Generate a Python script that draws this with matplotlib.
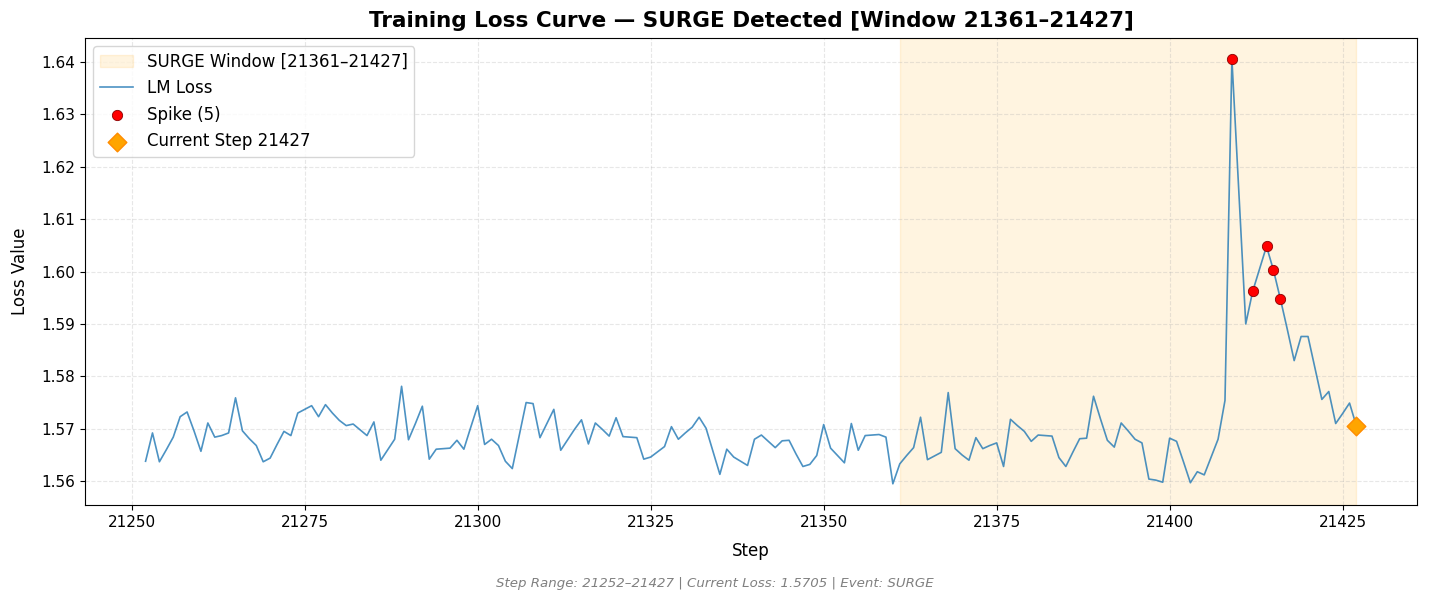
import matplotlib
matplotlib.use("Agg")
import matplotlib.pyplot as plt
import numpy as np

start_step = 21252
loss = [
    1.5638, 1.5692, 1.5637, 1.5660, 1.5684, 1.5723, 1.5732, 1.5696, 1.5657, 1.5711,  # 21252-21261
    1.5684, 1.5687, 1.5692, 1.5759, 1.5696, 1.5681, 1.5668, 1.5637, 1.5644, 1.5670,  # 21262-21271
    1.5695, 1.5687, 1.5730, 1.5737, 1.5744, 1.5723, 1.5746, 1.5730, 1.5716, 1.5706,  # 21272-21281
    1.5709, 1.5698, 1.5687, 1.5713, 1.5640, 1.5660, 1.5680, 1.5781, 1.5679, 1.5710,  # 21282-21291
    1.5743, 1.5642, 1.5661, 1.5662, 1.5663, 1.5678, 1.5661, 1.5703, 1.5744, 1.5670,  # 21292-21301
    1.5680, 1.5668, 1.5638, 1.5624, 1.5687, 1.5750, 1.5748, 1.5683, 1.5710, 1.5737,  # 21302-21311
    1.5659, 1.5679, 1.5699, 1.5717, 1.5671, 1.5711, 1.5699, 1.5686, 1.5721, 1.5685,  # 21312-21321
    1.5684, 1.5683, 1.5642, 1.5646, 1.5656, 1.5666, 1.5704, 1.5680, 1.5692, 1.5703,  # 21322-21331
    1.5722, 1.5701, 1.5657, 1.5613, 1.5661, 1.5646, 1.5638, 1.5630, 1.5680, 1.5688,  # 21332-21341
    1.5676, 1.5664, 1.5677, 1.5678, 1.5652, 1.5628, 1.5632, 1.5649, 1.5708, 1.5663,  # 21342-21351
    1.5649, 1.5635, 1.5710, 1.5659, 1.5687, 1.5688, 1.5689, 1.5684, 1.5595, 1.5633,  # 21352-21361
    1.5649, 1.5664, 1.5722, 1.5641, 1.5648, 1.5655, 1.5769, 1.5662, 1.5650, 1.5640,  # 21362-21371
    1.5683, 1.5662, 1.5668, 1.5673, 1.5628, 1.5718, 1.5706, 1.5695, 1.5676, 1.5688,  # 21372-21381
    1.5687, 1.5686, 1.5645, 1.5628, 1.5655, 1.5681, 1.5682, 1.5762, 1.5719, 1.5678,  # 21382-21391
    1.5665, 1.5711, 1.5696, 1.5680, 1.5673, 1.5604, 1.5602, 1.5598, 1.5682, 1.5676,  # 21392-21401
    1.5637, 1.5597, 1.5618, 1.5612, 1.5646, 1.5680, 1.5754, 1.6405, 1.6152, 1.5900,  # 21402-21411
    1.5962, 1.6005, 1.6048, 1.6003, 1.5948, 1.5890, 1.5830, 1.5876, 1.5876, 1.5816,  # 21412-21421
    1.5756, 1.5771, 1.5710, 1.5729, 1.5749, 1.5705,                                  # 21422-21427
]
steps = np.arange(start_step, start_step + len(loss))
spike_steps = [21409, 21412, 21414, 21415, 21416]
window_start, window_end = 21361, 21427
current_step = 21427
current_loss = 1.5705

spike_vals = [loss[s - start_step] for s in spike_steps]

fig = plt.figure(figsize=(14.29, 6.02), dpi=100)
ax = fig.add_axes([0.0595, 0.1611, 0.9321, 0.7758])

ax.axvspan(window_start, window_end, color="orange", alpha=0.12,
           label=f"SURGE Window [{window_start}–{window_end}]")
ax.plot(steps, loss, color="#1f77b4", alpha=0.8, linewidth=1.2, label="LM Loss")
ax.scatter(spike_steps, spike_vals, color="red", edgecolors="darkred", linewidths=0.6,
           s=55, zorder=5, label=f"Spike ({len(spike_steps)})")
ax.scatter([current_step], [current_loss], color="orange", edgecolors="darkorange",
           marker="D", s=90, zorder=6, label=f"Current Step {current_step}")

ax.grid(True, linestyle="--", alpha=0.3)
ax.set_xlabel("Step", fontsize=12, labelpad=9)
ax.set_ylabel("Loss Value", fontsize=12, labelpad=9)
ax.tick_params(labelsize=11)
ax.set_title(f"Training Loss Curve — SURGE Detected [Window {window_start}–{window_end}]",
             fontsize=15.5, fontweight="bold", pad=8)
ax.legend(loc="upper left", fontsize=12)

fig.text(0.5, 0.025,
         f"Step Range: {steps[0]}–{steps[-1]} | Current Loss: {current_loss:.4f} | Event: SURGE",
         ha="center", fontsize=9.6, style="italic", color="gray")

fig.savefig("out.png", dpi=100)
